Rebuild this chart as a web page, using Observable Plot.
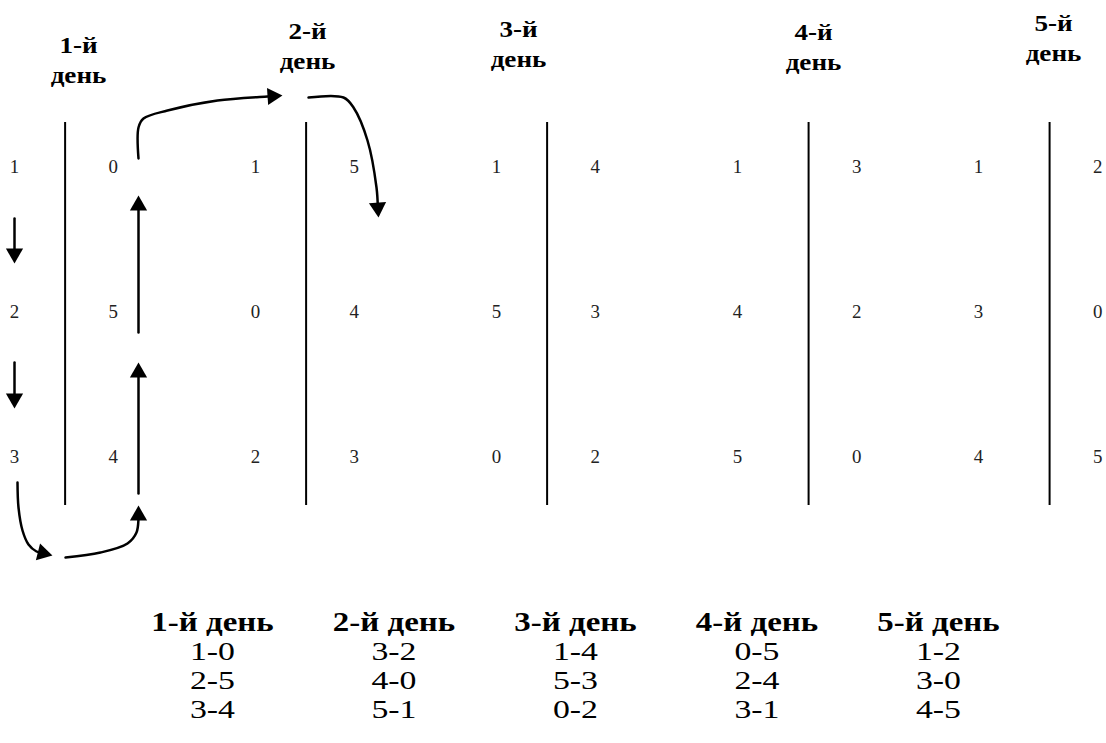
<!DOCTYPE html>
<html>
<head>
<meta charset="utf-8">
<script src="https://cdn.jsdelivr.net/npm/d3@7"></script>
<script src="https://cdn.jsdelivr.net/npm/@observablehq/plot@0.6"></script>
<style>
  html, body { margin: 0; padding: 0; background: #fff; }
  #chart svg { display: block; }
</style>
</head>
<body>
<div id="chart"></div>
<script>
// ---------- data ----------
const dayLabels = ["1-й", "2-й", "3-й", "4-й", "5-й"];
const dayWord = "день";
const leftTeams  = [[1, 2, 3], [1, 0, 2], [1, 5, 0], [1, 4, 5], [1, 3, 4]];
const rightTeams = [[0, 5, 4], [5, 4, 3], [4, 3, 2], [3, 2, 0], [2, 0, 5]];
const pairings = [
  ["1-0", "2-5", "3-4"],
  ["3-2", "4-0", "5-1"],
  ["1-4", "5-3", "0-2"],
  ["0-5", "2-4", "3-1"],
  ["1-2", "3-0", "4-5"]
];

// ---------- layout (pixels of the 1106x743 picture) ----------
const W = 1106, H = 743;
const LEFT0 = 14, DAY_STEP = 241;      // x of left column for day index 0 and step
const ROW0 = 167, ROW_STEP = 145;      // y of row 1 and step
const ux = px => (px - LEFT0) / DAY_STEP;         // px -> x units (day index)
const uy = py => 1 + (py - ROW0) / ROW_STEP;      // px -> y units (row)
const divOff   = [0.21, 0.21, 0.21, 0.295, 0.295];
const rightOff = [0.41, 0.41, 0.41, 0.495, 0.495];
const divTop = 122, divBottom = 505;
const headerX = [78, 307, 518, 813, 1053];
const headerY = [45, 31, 29, 32, 23];
const headerGap = 30;
const TABLE_X0 = 212, TABLE_STEP = 181.5, TABLE_Y0 = 622, TABLE_ROW = 29;

// annotation arrows (pixel paths, last point is the tip)
const arrowPaths = [
  [[14, 218], [14, 263]],
  [[14, 362], [14, 408]],
  [[17, 482], [18, 507], [22, 530], [28, 544], [36, 551], [52, 555]],
  [[65, 557], [100, 552], [127, 543], [136, 532], [138, 518], [138, 505]],
  [[138, 493], [138, 362]],
  [[138, 332], [138, 195]],
  [[138, 158], [138, 127], [143, 118], [167, 110], [217, 100], [267, 96], [282, 95]],
  [[308, 97], [343, 97], [353, 107], [367, 140], [376, 187], [378, 217]]
];

// ---------- build tables for marks ----------
const numbers = [];
dayLabels.forEach((_, d) => {
  leftTeams[d].forEach((t, r) => numbers.push({x: d, y: r + 1, t}));
  rightTeams[d].forEach((t, r) => numbers.push({x: d + rightOff[d], y: r + 1, t}));
});
const dividers = dayLabels.map((_, d) => ({x: d + divOff[d], y1: uy(divTop), y2: uy(divBottom)}));
const headers1 = dayLabels.map((lab, d) => ({x: ux(headerX[d]), y: uy(headerY[d]), t: lab}));
const headers2 = dayLabels.map((lab, d) => ({x: ux(headerX[d]), y: uy(headerY[d] + headerGap), t: dayWord}));

const tableHead = dayLabels.map((lab, i) => ({x: ux(TABLE_X0 + i * TABLE_STEP), y: uy(TABLE_Y0), t: lab + " " + dayWord}));
const tableCells = [];
pairings.forEach((col, i) => col.forEach((p, r) =>
  tableCells.push({x: ux(TABLE_X0 + i * TABLE_STEP), y: uy(TABLE_Y0 + (r + 1) * TABLE_ROW), t: p})));

// arrows: shafts end at the head centre, heads are rotated triangles
const HEAD_BACK = 10;
const shafts = [], heads = [];
arrowPaths.forEach((path, k) => {
  const n = path.length;
  const [tx, ty] = path[n - 1];
  const [px, py] = path[n - 2];
  const len = Math.hypot(tx - px, ty - py);
  const dx = (tx - px) / len, dy = (ty - py) / len;
  const cx = tx - dx * HEAD_BACK, cy = ty - dy * HEAD_BACK;
  const pts = path.slice(0, n - 1).concat([[cx, cy]]);
  pts.forEach(([x, y]) => shafts.push({k, x: ux(x), y: uy(y)}));
  heads.push({x: ux(cx), y: uy(cy), a: Math.atan2(dx, -dy) * 180 / Math.PI});
});

const serif = "'Liberation Serif', 'Times New Roman', serif";

const chart = Plot.plot({
  width: W,
  height: H,
  margin: 0,
  x: {domain: [ux(0), ux(W)], range: [0, W], axis: null},
  y: {domain: [uy(0), uy(H)], range: [0, H], axis: null},
  style: {background: "#fff", fontFamily: serif},
  marks: [
    Plot.ruleX(dividers, {x: "x", y1: "y1", y2: "y2", stroke: "#000", strokeWidth: 2}),
    Plot.text(numbers, {x: "x", y: "y", text: "t", fontSize: 18, fill: "#222", textAnchor: "middle"}),
    Plot.text(headers1, {x: "x", y: "y", text: "t", fontSize: 23, fontWeight: "bold", fill: "#000"}),
    Plot.text(headers2, {x: "x", y: "y", text: "t", fontSize: 23, fontWeight: "bold", fill: "#000"}),
    Plot.line(shafts, {x: "x", y: "y", z: "k", curve: "catmull-rom", stroke: "#000", strokeWidth: 2.5}),
    Plot.dot(heads, {x: "x", y: "y", rotate: "a", symbol: "triangle", r: 6.4, fill: "#000", stroke: "none"}),
    Plot.text(tableHead, {x: "x", y: "y", text: "t", fontSize: 27, fontWeight: "bold", fill: "#000"}),
    Plot.text(tableCells, {x: "x", y: "y", text: "t", fontSize: 26, fill: "#000"})
  ]
});

// the reference text is slightly stretched horizontally
const stretch = [1.05, 1.18, 1.18, 1.22, 1.3];
d3.select(chart).selectAll('g[aria-label="text"]').each(function(_, i) {
  const s = stretch[i] || 1;
  d3.select(this).selectAll("text").attr("transform", function() {
    const t = this.getAttribute("transform") || "";
    return t + ` scale(${s},1)`;
  });
});
document.getElementById("chart").appendChild(chart);
</script>
</body>
</html>
